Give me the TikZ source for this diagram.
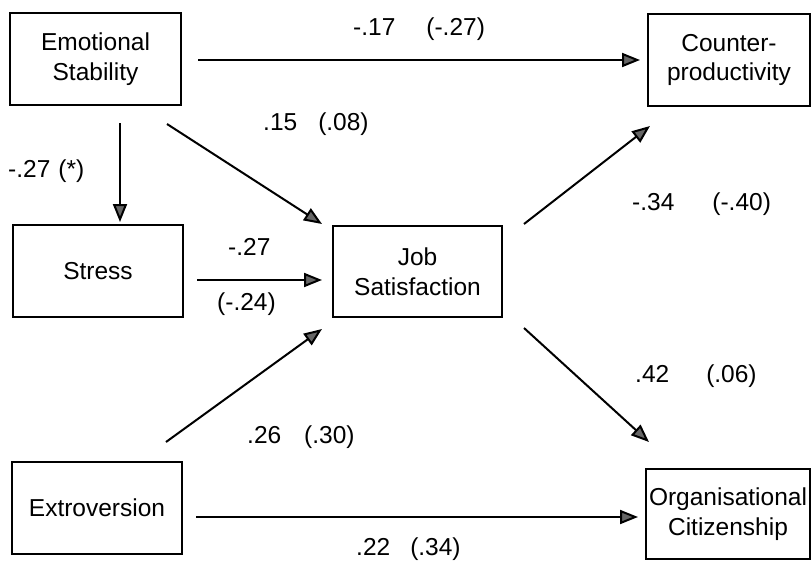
\documentclass[tikz,border=0pt]{standalone}
\usepackage{fontspec}
\setmainfont{Liberation Sans}
\usetikzlibrary{arrows.meta,calc}
\begin{document}
\begin{tikzpicture}[x=1pt,y=-1pt,
 box/.style={draw,line width=2pt,rectangle,inner sep=0pt,align=center,font=\fontsize{24.5}{29.5}\selectfont},
 arr/.style={line width=2pt,-{Triangle[length=18pt,width=14pt,fill=black!60]}},
 lbl/.style={font=\fontsize{24.5}{29}\selectfont,inner sep=0pt,anchor=base west}]
\useasboundingbox (0,0) rectangle (811,560);
% boxes
\node[box,minimum width=171pt,minimum height=92pt] (es) at (95.5,59) {Emotional\\Stability};
\node[box,minimum width=170pt,minimum height=92pt] (st) at (98,271) {Stress};
\node[box,minimum width=170pt,minimum height=92pt] (ex) at (97,508) {Extroversion};
\node[box,minimum width=169pt,minimum height=91pt] (js) at (417.5,271.5) {Job\\Satisfaction};
\node[box,minimum width=162pt,minimum height=92pt] (cp) at (729,60) {Counter-\\productivity};
\node[box,minimum width=164pt,minimum height=90pt] (oc) at (728,514) {Organisational\\Citizenship};
% connectors
\draw[arr] ($(es.east)+(16,1)$) -- ($(cp.west)+(-7,0)$);
\draw[arr] ($(es.south)+(24.5,17)$) -- ($(st.north)+(22,-2)$);
\draw[arr] ($(es.south east)+(-15,18)$) -- ($(js.north west)+(-10,-1)$);
\draw[arr] ($(st.east)+(13,9)$) -- ($(js.west)+(-10,8.5)$);
\draw[arr] ($(ex.north east)+(-17,-19)$) -- ($(js.south west)+(-10,11)$);
\draw[arr] ($(ex.east)+(13,9)$) -- ($(oc.west)+(-7,3)$);
\draw[arr] ($(js.north east)+(21,-1)$) -- ($(cp.south west)+(3,19)$);
\draw[arr] ($(js.south east)+(21,10)$) -- ($(oc.north west)+(4,-26)$);
% labels
\node[lbl] (l1) at (353,35) {-.17\hspace{31pt}(-.27)};
\node[lbl] (l2) at (263,130) {.15\hspace{21pt}(.08)};
\node[lbl] (l3) at (8,177) {-.27\hspace{8pt}(*)};
\node[lbl] (l4) at (228,255) {-.27};
\node[lbl] (l5) at (217,310) {(-.24)};
\node[lbl] (l6) at (632,210) {-.34\hspace{38pt}(-.40)};
\node[lbl] (l7) at (635,382) {.42\hspace{37pt}(.06)};
\node[lbl] (l8) at (247,443) {.26\hspace{23pt}(.30)};
\node[lbl] (l9) at (356,555) {.22\hspace{20pt}(.34)};
\end{tikzpicture}
\end{document}
